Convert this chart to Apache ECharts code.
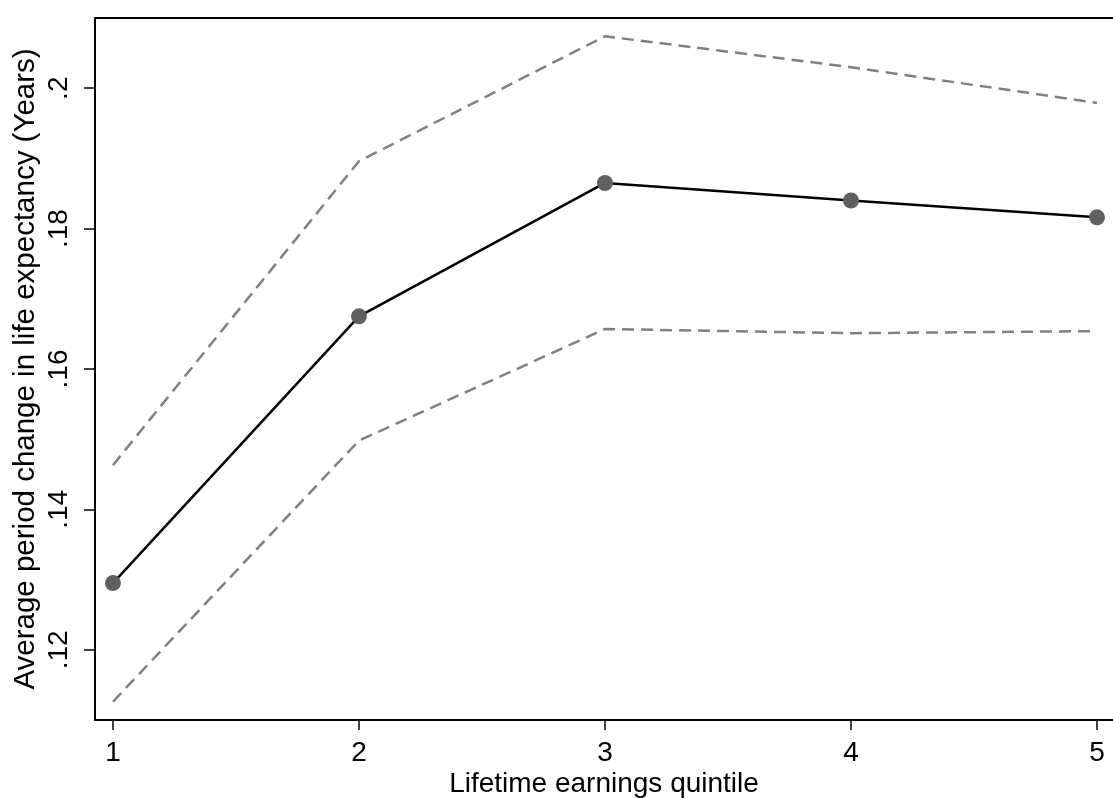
<!DOCTYPE html>
<html>
<head>
<meta charset="utf-8">
<script src="https://cdn.jsdelivr.net/npm/echarts@6/dist/echarts.min.js"></script>
<style>
    html, body { margin: 0; padding: 0; background: #fff; }
    #chart { width: 1113px; height: 798px; }
</style>
</head>
<body>
<div id="chart"></div>
<script>
// quintiles on the x axis
var quintiles = [1, 2, 3, 4, 5];
// point estimate and the two dashed bands
var estimate = [0.1295, 0.1675, 0.1865, 0.1840, 0.1816];
var upperCI = [0.1463, 0.1896, 0.2074, 0.2030, 0.1979];
var lowerCI = [0.1126, 0.1498, 0.1657, 0.1651, 0.1654];
// tick values and labels
var xTicks = [1, 2, 3, 4, 5];
var yTicks = [0.12, 0.14, 0.16, 0.18, 0.2];
var yTickLabels = ['.12', '.14', '.16', '.18', '.2'];

function pairs(vals) {
    return quintiles.map(function (q, i) { return [q, vals[i]]; });
}

var chart = echarts.init(document.getElementById('chart'));
var font = 'Liberation Sans, Arial, Helvetica, sans-serif';

var option = {
    animation: false,
    grid: { left: 95, right: 0, top: 18, bottom: 78, outerBoundsMode: 'none', containLabel: false },
    xAxis: [{
        type: 'value',
        min: 0.927,
        max: 5.065,
        name: 'Lifetime earnings quintile',
        nameLocation: 'middle',
        nameGap: 50,
        nameMoveOverlap: false,
        nameTextStyle: { color: '#000', fontSize: 28, fontFamily: font },
        axisLine: { show: true, lineStyle: { color: '#000', width: 2 } },
        axisTick: { show: true, length: 10, customValues: xTicks, lineStyle: { color: '#000', width: 1.5 } },
        axisLabel: { customValues: xTicks, margin: 19, color: '#000', fontSize: 28, fontFamily: font },
        splitLine: { show: false }
    }, {
        // top border of the plot box
        type: 'value',
        position: 'top',
        min: 0.927,
        max: 5.065,
        axisLine: { show: true, lineStyle: { color: '#000', width: 2 } },
        axisTick: { show: false },
        axisLabel: { show: false },
        splitLine: { show: false }
    }],
    yAxis: {
        type: 'value',
        min: 0.11,
        max: 0.21,
        name: 'Average period change in life expectancy (Years)',
        nameLocation: 'middle',
        nameGap: 54,
        nameMoveOverlap: false,
        nameTextStyle: { color: '#000', fontSize: 29.5, fontFamily: font },
        axisLine: { show: true, lineStyle: { color: '#000', width: 2 } },
        axisTick: { show: true, length: 11, customValues: yTicks, lineStyle: { color: '#000', width: 1.5 } },
        axisLabel: {
            customValues: yTicks,
            rotate: 90,
            margin: 22,
            color: '#000',
            fontSize: 28,
            fontFamily: font,
            formatter: function (v) {
                var i = yTicks.findIndex(function (t) { return Math.abs(t - v) < 1e-9; });
                return i >= 0 ? yTickLabels[i] : '';
            }
        },
        splitLine: { show: false }
    },
    series: [
        {
            name: 'upper',
            type: 'line',
            data: pairs(upperCI),
            symbol: 'none',
            lineStyle: { color: '#808080', width: 2.5, type: [12, 7] }
        },
        {
            name: 'lower',
            type: 'line',
            data: pairs(lowerCI),
            symbol: 'none',
            lineStyle: { color: '#808080', width: 2.5, type: [12, 7] }
        },
        {
            name: 'estimate',
            type: 'line',
            data: pairs(estimate),
            symbol: 'circle',
            symbolSize: 16,
            lineStyle: { color: '#000', width: 2.5 },
            itemStyle: { color: '#606060' }
        }
    ]
};
chart.setOption(option);
</script>
</body>
</html>
